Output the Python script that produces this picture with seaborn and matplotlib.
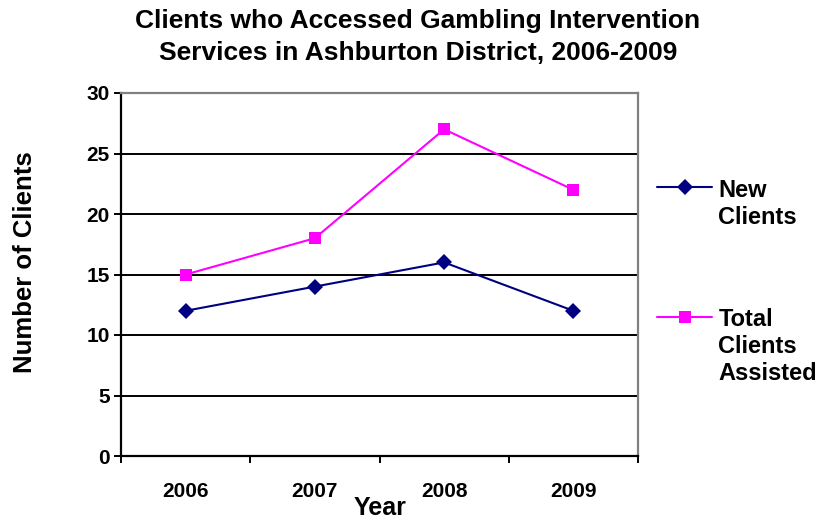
import matplotlib
matplotlib.use("Agg")
import matplotlib.pyplot as plt
import seaborn as sns
import pandas as pd
from matplotlib.ticker import FixedLocator

years = ["2006", "2007", "2008", "2009"]
new_clients = [12, 14, 16, 12]
total_clients = [15, 18, 27, 22]
series_names = ["New\nClients", "Total\nClients\nAssisted"]

sns.set_theme(style="white")
plt.rcParams['font.family'] = ['Liberation Sans', 'DejaVu Sans']
plt.rcParams['text.color'] = 'black'
plt.rcParams['axes.labelcolor'] = 'black'
plt.rcParams['xtick.color'] = 'black'
plt.rcParams['ytick.color'] = 'black'

df = pd.DataFrame({
    "x": list(range(len(years))) * 2,
    "value": new_clients + total_clients,
    "series": [series_names[0]] * len(years) + [series_names[1]] * len(years),
})

W, H = 819, 522
fig = plt.figure(figsize=(W / 100, H / 100), dpi=100)
ax = fig.add_axes([121 / W, 1 - 456 / H, (638 - 121) / W, (456 - 93) / H])

for yv in [5, 10, 15, 20, 25]:
    ax.axhline(yv, color="black", lw=1.4, zorder=0)

sns.lineplot(data=df, x="x", y="value", hue="series", style="series",
             palette=["#000080", "#FF00FF"], markers=["D", "s"], dashes=False,
             markersize=8.5, linewidth=1.5, markeredgewidth=0, sort=False, ax=ax,
             legend=True)

ax.set_xlim(-0.5, len(years) - 0.5)
ax.set_ylim(0, 30)
ax.set_yticks([0, 5, 10, 15, 20, 25, 30])
ax.set_xticks(range(len(years)))
ax.set_xticklabels(years)
ax.xaxis.set_minor_locator(FixedLocator([i - 0.5 for i in range(len(years) + 1)]))
ax.tick_params(axis="x", which="major", length=0, pad=19, labelsize=15, labelcolor="black")
ax.tick_params(axis="x", which="minor", length=5, width=1.4, color="black", direction="out", bottom=True)
ax.tick_params(axis="y", length=5, width=1.4, color="black", direction="out", left=True,
               labelsize=15, pad=3, labelcolor="black")
for lab in ax.get_xticklabels() + ax.get_yticklabels():
    lab.set_fontweight("bold")

for s in ["left", "bottom"]:
    ax.spines[s].set_color("black")
    ax.spines[s].set_linewidth(1.6)
for s in ["top", "right"]:
    ax.spines[s].set_color("#808080")
    ax.spines[s].set_linewidth(1.6)

ax.set_xlabel("Year", fontsize=18, fontweight="bold", va="center", color="black")
ax.xaxis.set_label_coords((380 - 121) / 517, (456 - 508) / 363)
ax.set_ylabel("Number of Clients", fontsize=18.5, fontweight="bold", va="center", color="black")
ax.yaxis.set_label_coords((25 - 121) / 517, (456 - 262) / 363)

fig.text(418 / W, 1 - 9 / H,
         "Clients who Accessed Gambling Intervention\nServices in Ashburton District, 2006-2009",
         ha="center", va="top", fontsize=19, fontweight="bold", linespacing=1.42, color="black")

leg = ax.legend(loc="upper left", bbox_to_anchor=(657 / W, 1 - 179 / H),
                bbox_transform=fig.transFigure, frameon=False,
                borderpad=0, borderaxespad=0,
                handlelength=2.35, handletextpad=0.25, labelspacing=3.38,
                prop={"weight": "bold", "size": 17})
for col in leg._legend_handle_box.get_children():
    for row in col.get_children():
        row.align = "top"
for t in leg.get_texts():
    t.set_color("black")

fig.savefig("out.png", dpi=100)
